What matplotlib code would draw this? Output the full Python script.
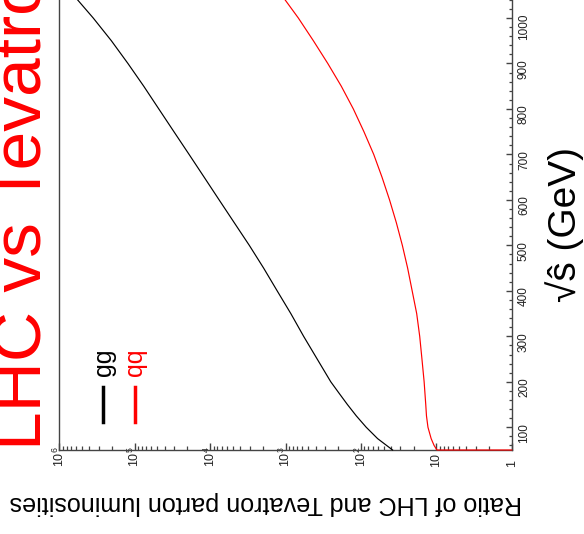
import matplotlib
matplotlib.use('Agg')
import matplotlib.pyplot as plt
from matplotlib.ticker import FixedLocator, FixedFormatter, LogLocator, MultipleLocator, NullFormatter
from matplotlib.lines import Line2D

plt.rcParams['font.family'] = ['Liberation Sans', 'DejaVu Sans']
plt.rcParams['mathtext.fontset'] = 'custom'
plt.rcParams['mathtext.rm'] = 'Liberation Sans'
plt.rcParams['mathtext.it'] = 'Liberation Sans:italic'
plt.rcParams['mathtext.bf'] = 'Liberation Sans:bold'

# ---- data ----
sqrt_s_gg = [50, 75, 100, 125, 150, 175, 200, 250, 300, 350, 400, 450, 500,
             550, 600, 650, 700, 750, 800, 850, 900, 950, 1000, 1050]
ratio_gg = [38, 60, 85, 115, 151, 195, 251, 380, 575, 850, 1290, 1950, 3020,
            4790, 7590, 12000, 19000, 30200, 47900, 75900, 123000, 204000, 355000, 646000]

sqrt_s_qq = [50, 50, 60, 75, 100, 125, 150, 200, 250, 300, 350, 400, 450, 500,
             550, 600, 650, 700, 750, 800, 850, 900, 950, 1000, 1050]
ratio_qq = [1, 9.8, 10.7, 11.7, 12.9, 13.5, 13.8, 14.5, 15.5, 16.6, 18.2, 20.9, 24.0, 28.2,
            33.9, 41.7, 52.5, 67.6, 91.2, 126, 182, 275, 427, 676, 1122]

series_names = ['gg', 'qq']
series_colors = ['black', 'red']

ratio_ticks = [1, 10, 1e2, 1e3, 1e4, 1e5, 1e6]
ratio_tick_labels = ['1', '10', r'$10^{2}$', r'$10^{3}$', r'$10^{4}$', r'$10^{5}$', r'$10^{6}$']
sqrt_s_ticks = [100, 200, 300, 400, 500, 600, 700, 800, 900, 1000]
sqrt_s_tick_labels = [str(v) for v in sqrt_s_ticks]

title = 'LHC vs Tevatron'
ratio_label = 'Ratio of LHC and Tevatron parton luminosities'
energy_label = '\u221a\u015d (GeV)'

W, H = 584, 534
fig = plt.figure(figsize=(W / 100, H / 100), dpi=100)

def fx(px):
    return px / W

def fy(py):
    return 1 - py / H

ax = fig.add_axes([fx(59.3), fy(450), fx(511.7) - fx(59.3), fy(-4.75) - fy(450)])

ax.plot(ratio_gg, sqrt_s_gg, color=series_colors[0], lw=0.85, clip_on=False, zorder=3)
ax.plot(ratio_qq, sqrt_s_qq, color=series_colors[1], lw=0.85, clip_on=False, zorder=3)

ax.set_xscale('log')
ax.set_xlim(1e6, 1)
ax.set_ylim(50, 1050)

spine_col = '#444444'
for s in ['left', 'right', 'bottom']:
    ax.spines[s].set_color(spine_col)
    ax.spines[s].set_linewidth(1.0)
ax.spines['top'].set_visible(False)

# log axis (horizontal, bottom)
ax.xaxis.set_major_locator(FixedLocator(ratio_ticks))
ax.xaxis.set_major_formatter(FixedFormatter(ratio_tick_labels))
ax.xaxis.set_minor_locator(LogLocator(base=10, subs=range(2, 10), numticks=30))
ax.xaxis.set_minor_formatter(NullFormatter())
ax.tick_params(axis='x', which='both', direction='in', bottom=True, top=False, color=spine_col)
ax.tick_params(axis='x', which='major', length=5, width=1, labelsize=9, labelrotation=90, pad=12.5, labelcolor='#222222')
ax.tick_params(axis='x', which='minor', length=2.8, width=0.9)

# energy axis (vertical, right)
ax.yaxis.tick_right()
ax.yaxis.set_major_locator(FixedLocator(sqrt_s_ticks))
ax.yaxis.set_major_formatter(FixedFormatter(sqrt_s_tick_labels))
ax.yaxis.set_minor_locator(MultipleLocator(20))
ax.tick_params(axis='y', which='both', direction='in', left=False, right=True, labelleft=False, labelright=True, color=spine_col)
ax.tick_params(axis='y', which='major', length=4.3, width=1, labelsize=8.5, labelrotation=90, pad=4.5, labelcolor='#222222')
ax.tick_params(axis='y', which='minor', length=2.2, width=0.9)

for lbl in ax.get_xticklabels():
    lbl.set_va('bottom')

# title
fig.text(fx(41.7), fy(450), title, rotation=90, rotation_mode='anchor', ha='left', va='baseline',
         fontsize=50, color='red')

# axis labels
fig.text(fx(266), fy(503), ratio_label, rotation=180, ha='center', va='center', fontsize=18.1, color='black')
fig.text(fx(576), fy(225), energy_label, rotation=90, rotation_mode='anchor', ha='center', va='baseline',
         fontsize=28, color='black')

# legend
leg_x = [103.3, 135]
for name, col, lx in zip(series_names, series_colors, leg_x):
    fig.add_artist(Line2D([fx(lx), fx(lx)], [fy(421.7), fy(386.7)], color=col, lw=2.5))
    fig.text(fx(lx + 0.5), fy(376), name, rotation=90, rotation_mode='anchor', ha='left', va='center',
             fontsize=18, color=col)

fig.savefig('out.png', dpi=100)
